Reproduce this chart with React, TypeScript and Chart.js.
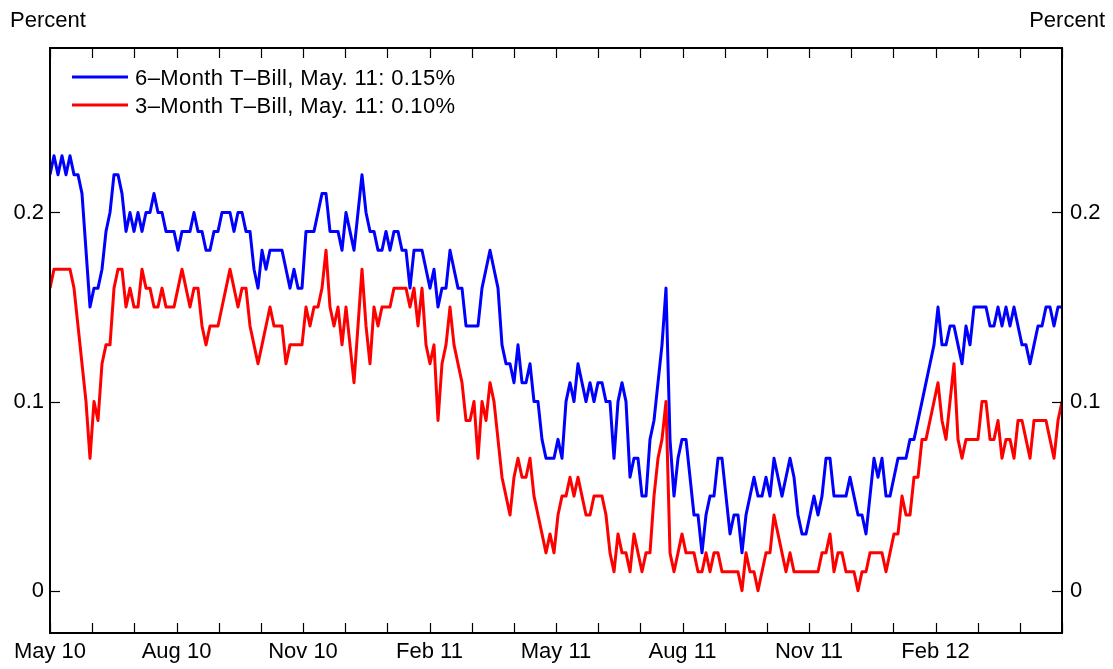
import React, { useEffect, useRef } from "react";
import { Chart, registerables } from "chart.js";

Chart.register(...registerables);

// ---------------- data ----------------
// Series sampled evenly from May 2010 to May 2012 (24 months), percent
const sixMonthBill = [
  0.22, 0.23, 0.22, 0.23, 0.22, 0.23, 0.22, 0.22, 0.21, 0.18,
  0.15, 0.16, 0.16, 0.17, 0.19, 0.20, 0.22, 0.22, 0.21, 0.19,
  0.20, 0.19, 0.20, 0.19, 0.20, 0.20, 0.21, 0.20, 0.20, 0.19,
  0.19, 0.19, 0.18, 0.19, 0.19, 0.19, 0.20, 0.19, 0.19, 0.18,
  0.18, 0.19, 0.19, 0.20, 0.20, 0.20, 0.19, 0.20, 0.20, 0.19,
  0.19, 0.17, 0.16, 0.18, 0.17, 0.18, 0.18, 0.18, 0.18, 0.17,
  0.16, 0.17, 0.16, 0.16, 0.19, 0.19, 0.19, 0.20, 0.21, 0.21,
  0.19, 0.19, 0.19, 0.18, 0.20, 0.19, 0.18, 0.20, 0.22, 0.20,
  0.19, 0.19, 0.18, 0.18, 0.19, 0.18, 0.19, 0.19, 0.18, 0.18,
  0.16, 0.18, 0.18, 0.18, 0.17, 0.16, 0.17, 0.15, 0.16, 0.16,
  0.18, 0.17, 0.16, 0.16, 0.14, 0.14, 0.14, 0.14, 0.16, 0.17,
  0.18, 0.17, 0.16, 0.13, 0.12, 0.12, 0.11, 0.13, 0.11, 0.11,
  0.12, 0.10, 0.10, 0.08, 0.07, 0.07, 0.07, 0.08, 0.07, 0.10,
  0.11, 0.10, 0.12, 0.11, 0.10, 0.11, 0.10, 0.11, 0.11, 0.10,
  0.10, 0.07, 0.10, 0.11, 0.10, 0.06, 0.07, 0.07, 0.05, 0.05,
  0.08, 0.09, 0.11, 0.13, 0.16, 0.08, 0.05, 0.07, 0.08, 0.08,
  0.06, 0.04, 0.04, 0.02, 0.04, 0.05, 0.05, 0.07, 0.07, 0.05,
  0.03, 0.04, 0.04, 0.02, 0.04, 0.05, 0.06, 0.05, 0.05, 0.06,
  0.05, 0.07, 0.06, 0.05, 0.06, 0.07, 0.06, 0.04, 0.03, 0.03,
  0.04, 0.05, 0.04, 0.05, 0.07, 0.07, 0.05, 0.05, 0.05, 0.05,
  0.06, 0.05, 0.04, 0.04, 0.03, 0.05, 0.07, 0.06, 0.07, 0.05,
  0.05, 0.06, 0.07, 0.07, 0.07, 0.08, 0.08, 0.09, 0.10, 0.11,
  0.12, 0.13, 0.15, 0.13, 0.13, 0.14, 0.14, 0.13, 0.12, 0.14,
  0.13, 0.15, 0.15, 0.15, 0.15, 0.14, 0.14, 0.15, 0.14, 0.15,
  0.14, 0.15, 0.14, 0.13, 0.13, 0.12, 0.13, 0.14, 0.14, 0.15,
  0.15, 0.14, 0.15, 0.15,
];

const threeMonthBill = [
  0.16, 0.17, 0.17, 0.17, 0.17, 0.17, 0.16, 0.14, 0.12, 0.10,
  0.07, 0.10, 0.09, 0.12, 0.13, 0.13, 0.16, 0.17, 0.17, 0.15,
  0.16, 0.15, 0.15, 0.17, 0.16, 0.16, 0.15, 0.15, 0.16, 0.15,
  0.15, 0.15, 0.16, 0.17, 0.16, 0.15, 0.16, 0.16, 0.14, 0.13,
  0.14, 0.14, 0.14, 0.15, 0.16, 0.17, 0.16, 0.15, 0.16, 0.16,
  0.14, 0.13, 0.12, 0.13, 0.14, 0.15, 0.14, 0.14, 0.14, 0.12,
  0.13, 0.13, 0.13, 0.13, 0.15, 0.14, 0.15, 0.15, 0.16, 0.18,
  0.15, 0.14, 0.15, 0.13, 0.15, 0.13, 0.11, 0.14, 0.17, 0.14,
  0.12, 0.15, 0.14, 0.15, 0.15, 0.15, 0.16, 0.16, 0.16, 0.16,
  0.15, 0.16, 0.14, 0.16, 0.13, 0.12, 0.13, 0.09, 0.12, 0.13,
  0.15, 0.13, 0.12, 0.11, 0.09, 0.09, 0.10, 0.07, 0.10, 0.09,
  0.11, 0.10, 0.08, 0.06, 0.05, 0.04, 0.06, 0.07, 0.06, 0.06,
  0.07, 0.05, 0.04, 0.03, 0.02, 0.03, 0.02, 0.04, 0.05, 0.05,
  0.06, 0.05, 0.06, 0.05, 0.04, 0.04, 0.05, 0.05, 0.05, 0.04,
  0.02, 0.01, 0.03, 0.02, 0.02, 0.01, 0.03, 0.02, 0.01, 0.02,
  0.02, 0.05, 0.07, 0.08, 0.10, 0.02, 0.01, 0.02, 0.03, 0.02,
  0.02, 0.02, 0.01, 0.01, 0.02, 0.01, 0.02, 0.02, 0.01, 0.01,
  0.01, 0.01, 0.01, 0.00, 0.02, 0.01, 0.01, 0.00, 0.01, 0.02,
  0.02, 0.04, 0.03, 0.02, 0.01, 0.02, 0.01, 0.01, 0.01, 0.01,
  0.01, 0.01, 0.01, 0.02, 0.02, 0.03, 0.01, 0.02, 0.02, 0.01,
  0.01, 0.01, 0.00, 0.01, 0.01, 0.02, 0.02, 0.02, 0.02, 0.01,
  0.02, 0.03, 0.03, 0.05, 0.04, 0.04, 0.06, 0.06, 0.08, 0.08,
  0.09, 0.10, 0.11, 0.09, 0.08, 0.10, 0.12, 0.08, 0.07, 0.08,
  0.08, 0.08, 0.08, 0.10, 0.10, 0.08, 0.08, 0.09, 0.07, 0.08,
  0.08, 0.07, 0.09, 0.09, 0.08, 0.07, 0.09, 0.09, 0.09, 0.09,
  0.08, 0.07, 0.09, 0.10,
];

const seriesLabels = [
  "6\u2013Month T\u2013Bill, May. 11: 0.15%",
  "3\u2013Month T\u2013Bill, May. 11: 0.10%",
];
const seriesColors = ["#0000ff", "#ff0000"];

const monthCount = 24; // May 10 .. May 12
const monthTickLabels = ["May 10", "Aug 10", "Nov 10", "Feb 11", "May 11", "Aug 11", "Nov 11", "Feb 12"];
const yTickValues = [0, 0.1, 0.2];
const yMin = -0.0224;
const yMax = 0.287;
const unitLabel = "Percent";

const FONT = '"Liberation Sans", Arial, Helvetica, sans-serif';
const FONT_SIZE = 22;

export default function App() {
  const ref = useRef<HTMLCanvasElement>(null);

  useEffect(() => {
    if (!ref.current) return;
    const toPts = (arr: number[]) =>
      arr.map((v, i) => ({ x: (i * monthCount) / (arr.length - 1), y: v }));

    const framePlugin = {
      id: "frame",
      afterDraw(chart: any) {
        const { ctx, chartArea: a, scales } = chart;
        ctx.save();
        ctx.strokeStyle = "#000";
        const line = (x1: number, y1: number, x2: number, y2: number) => {
          ctx.beginPath();
          ctx.moveTo(x1, y1);
          ctx.lineTo(x2, y2);
          ctx.stroke();
        };
        ctx.lineWidth = 1.2;
        for (let m = 0; m <= monthCount; m++) {
          const px = Math.round(scales.x.getPixelForValue(m)) + 0.5;
          line(px, a.bottom, px, a.bottom - 10);
          line(px, a.top, px, a.top + 10);
        }
        for (const t of yTickValues) {
          const py = Math.round(scales.y.getPixelForValue(t)) + 0.5;
          line(a.left, py, a.left + 10, py);
          line(a.right, py, a.right - 10, py);
        }
        ctx.lineWidth = 2;
        ctx.strokeRect(a.left, a.top, a.right - a.left, a.bottom - a.top);
        ctx.fillStyle = "#000";
        ctx.font = `${FONT_SIZE}px ${FONT}`;
        ctx.textBaseline = "alphabetic";
        ctx.textAlign = "left";
        ctx.fillText(unitLabel, 10, 27);
        ctx.textAlign = "right";
        ctx.fillText(unitLabel, 1105, 27);
        // legend
        ctx.textAlign = "left";
        try {
          (ctx as any).letterSpacing = "0.4px";
        } catch (e) {}
        seriesLabels.forEach((lab, i) => {
          const ly = 77 + i * 28;
          ctx.strokeStyle = seriesColors[i];
          ctx.lineWidth = 3;
          line(72, ly, 128, ly);
          ctx.fillText(lab, 135, ly + 8);
        });
        ctx.restore();
      },
    };

    const chart = new Chart(ref.current, {
      type: "line",
      data: {
        datasets: [
          {
            label: seriesLabels[0],
            data: toPts(sixMonthBill),
            borderColor: seriesColors[0],
            borderWidth: 3,
            pointRadius: 0,
            tension: 0,
            borderJoinStyle: "round",
            order: 1,
          },
          {
            label: seriesLabels[1],
            data: toPts(threeMonthBill),
            borderColor: seriesColors[1],
            borderWidth: 3,
            pointRadius: 0,
            tension: 0,
            borderJoinStyle: "round",
            order: 0,
          },
        ],
      },
      options: {
        animation: false,
        responsive: true,
        maintainAspectRatio: false,
        layout: { padding: { top: 48, left: 0, right: 0, bottom: 0 } },
        plugins: { legend: { display: false }, tooltip: { enabled: false } },
        scales: {
          x: {
            type: "linear",
            min: 0,
            max: monthCount,
            grid: { display: false, drawTicks: false },
            border: { display: false },
            afterBuildTicks: (s: any) => {
              s.ticks = monthTickLabels.map((_, i) => ({ value: i * 3 }));
            },
            afterFit: (s: any) => {
              s.height = 36;
            },
            ticks: {
              autoSkip: false,
              maxRotation: 0,
              padding: 6,
              color: "#000",
              font: { family: FONT, size: FONT_SIZE },
              callback: (v: any) => monthTickLabels[Math.round(Number(v) / 3)] ?? "",
            },
          },
          y: {
            position: "left",
            min: yMin,
            max: yMax,
            grid: { display: false, drawTicks: false },
            border: { display: false },
            afterBuildTicks: (s: any) => {
              s.ticks = yTickValues.map((v) => ({ value: v }));
            },
            afterFit: (s: any) => {
              s.width = 50;
            },
            ticks: {
              padding: 6,
              color: "#000",
              font: { family: FONT, size: FONT_SIZE },
              callback: (v: any) => String(v),
            },
          },
          y2: {
            position: "right",
            min: yMin,
            max: yMax,
            grid: { display: false, drawTicks: false },
            border: { display: false },
            afterBuildTicks: (s: any) => {
              s.ticks = yTickValues.map((v) => ({ value: v }));
            },
            afterFit: (s: any) => {
              s.width = 51;
            },
            ticks: {
              padding: 8,
              color: "#000",
              font: { family: FONT, size: FONT_SIZE },
              callback: (v: any) => String(v),
            },
          },
        },
      },
      plugins: [framePlugin],
    } as any);

    return () => chart.destroy();
  }, []);

  return (
    <div style={{ position: "fixed", left: 0, top: 0, width: 1113, height: 669, background: "#fff" }}>
      <canvas ref={ref} />
    </div>
  );
}
